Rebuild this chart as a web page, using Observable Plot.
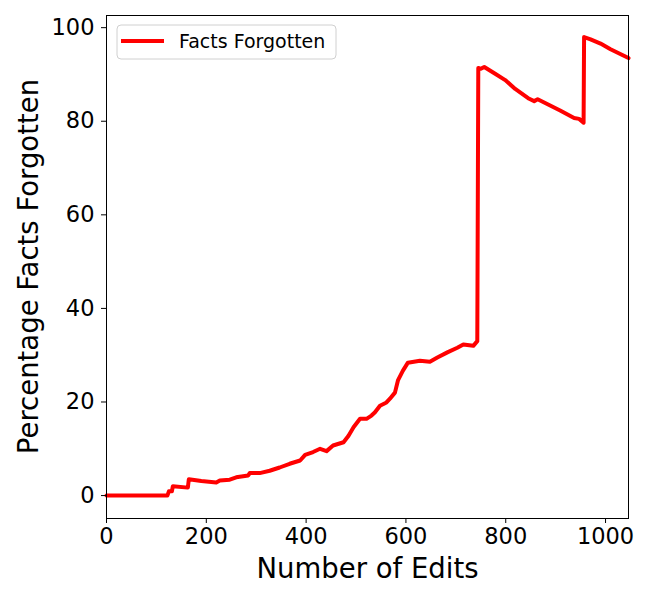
<!DOCTYPE html>
<html>
<head>
<meta charset="utf-8">
<script src="https://cdn.jsdelivr.net/npm/d3@7"></script>
<script src="https://cdn.jsdelivr.net/npm/@observablehq/plot@0.6"></script>
<style>
  html, body { margin: 0; padding: 0; background: white; }
  #chart { width: 650px; height: 600px; }
</style>
</head>
<body>
<div id="chart"></div>
<script>
const edits = [0, 122, 125, 131, 133, 163, 165, 190, 220, 227, 247, 260, 284, 287, 307, 327, 347, 367, 388, 398, 414, 428, 441, 454, 475, 485, 495, 508, 521, 531, 538, 548, 561, 568, 578, 584, 594, 604, 628, 648, 663, 683, 703, 715, 735, 743, 745, 750, 757, 778, 799, 819, 847, 857, 864, 881, 909, 937, 947, 956, 957, 970, 990, 1010, 1046];
const forgotten = [0, 0, 0.9, 0.9, 2.0, 1.7, 3.5, 3.1, 2.8, 3.2, 3.4, 3.9, 4.3, 4.8, 4.8, 5.3, 6.0, 6.8, 7.5, 8.7, 9.3, 10.0, 9.5, 10.7, 11.4, 12.8, 14.6, 16.4, 16.4, 17.1, 17.8, 19.2, 19.9, 20.7, 22.0, 24.6, 26.7, 28.4, 28.8, 28.6, 29.5, 30.6, 31.6, 32.3, 32.0, 33.0, 91.4, 91.2, 91.6, 90.2, 88.8, 86.9, 84.8, 84.3, 84.7, 83.8, 82.3, 80.7, 80.5, 79.7, 98.0, 97.5, 96.6, 95.4, 93.5];
const xTicks = [0, 200, 400, 600, 800, 1000];
const yTicks = [0, 20, 40, 60, 80, 100];
const seriesName = "Facts Forgotten";
const xLabel = "Number of Edits";
const yLabel = "Percentage Facts Forgotten";

const data = edits.map((e, i) => ({edits: e, pct: forgotten[i]}));

const chart = Plot.plot({
  width: 650,
  height: 600,
  marginLeft: 106,
  marginRight: 22,
  marginTop: 15,
  marginBottom: 82,
  style: {fontFamily: "DejaVu Sans", fontSize: "22px", color: "black", background: "white"},
  x: {domain: [0, 1046]},
  y: {domain: [-4.9, 102.6]},
  marks: [
    Plot.line(data, {x: "edits", y: "pct", stroke: "red", strokeWidth: 4, strokeLinejoin: "round"}),
    Plot.frame({stroke: "black", strokeWidth: 1}),
    Plot.axisX({ticks: xTicks, tickSize: 5, tickPadding: 5, fontSize: 22.5, label: null, stroke: "black", tickFormat: d => String(d)}),
    Plot.axisY({ticks: yTicks, tickSize: 5, tickPadding: 7, fontSize: 22.5, label: null, stroke: "black", tickFormat: d => String(d)}),
    Plot.text([xLabel], {frameAnchor: "bottom", dy: 51, fontSize: 27.5, fill: "black", lineAnchor: "middle"})
  ]
});

document.getElementById("chart").appendChild(chart);

const svg = d3.select(chart);

// Y axis label
svg.append("text")
  .attr("transform", "translate(28.5,266.5) rotate(-90)")
  .attr("text-anchor", "middle").attr("dy", "0.35em")
  .attr("font-family", "DejaVu Sans").attr("font-size", 27.5).attr("fill", "black")
  .text(yLabel);

// Legend
const lg = svg.append("g");
lg.append("rect").attr("x", 117).attr("y", 25).attr("width", 219).attr("height", 34)
  .attr("rx", 4).attr("fill", "white").attr("fill-opacity", 0.8).attr("stroke", "#d0d0d0");
lg.append("line").attr("x1", 121).attr("x2", 164).attr("y1", 41).attr("y2", 41)
  .attr("stroke", "red").attr("stroke-width", 4);
lg.append("text").attr("x", 179).attr("y", 41).attr("dy", "0.35em")
  .attr("text-anchor", "start")
  .attr("font-family", "DejaVu Sans").attr("font-size", 19).attr("fill", "black")
  .text(seriesName);
</script>
</body>
</html>
